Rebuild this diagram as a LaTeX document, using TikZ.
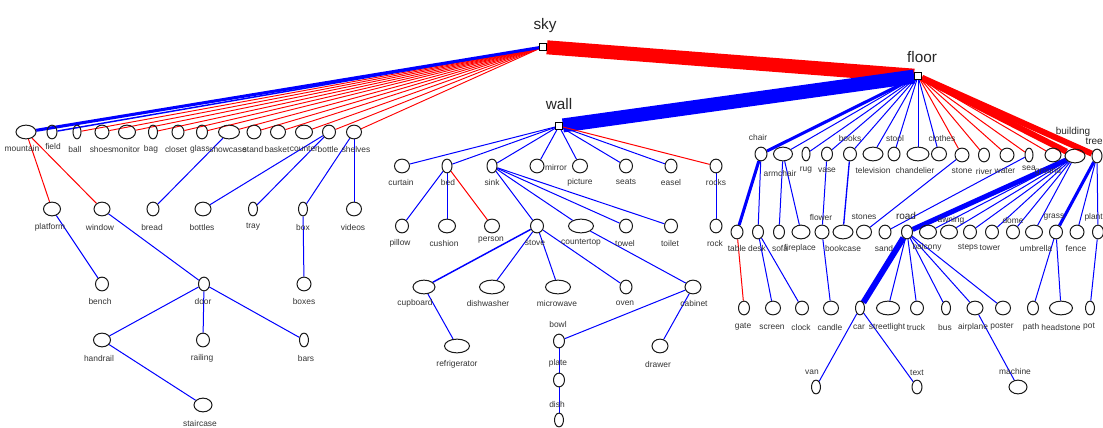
\documentclass[tikz,border=0pt]{standalone}
\usepackage{fontspec}
\setmainfont{Liberation Sans}
\usetikzlibrary{shapes.geometric,backgrounds}
\newcommand\obj[4]{\node[ob,minimum width={#4*0.75pt}] (#1) at (#2,#3) {};}
\newcommand\olab[3]{\node[lab] (#1-t) at (#2,#3) {#1};}
\newcommand\rootsq[3]{\node[sq] (#1) at (#2,#3) {};}
\begin{document}
\begin{tikzpicture}[x=0.75pt,y=-0.75pt,
  ob/.style={ellipse,draw=black!90,line width=0.75pt,minimum height=10.3pt,inner sep=0pt},
  sq/.style={rectangle,draw=black,fill=white,line width=0.7pt,minimum size=5.2pt,inner sep=0pt},
  lab/.style={inner sep=0pt,text=black!80,font=\fontsize{6.3}{7}\selectfont},
  big/.style={inner sep=0pt,text=black!85,font=\fontsize{11.5}{12}\selectfont},
  mid/.style={inner sep=0pt,text=black!85,font=\fontsize{7.5}{8}\selectfont},
  bl/.style={draw=blue,line width=0.75pt},
  rd/.style={draw=red,line width=0.75pt}]
\useasboundingbox (0,0) rectangle (1103,428);
% roots
\rootsq{sky}{543}{47}
\rootsq{wall}{559}{126}
\rootsq{floor}{918}{76}
\node[big] (sky-t) at (545,26) {sky};
\node[big] (wall-t) at (559,104) {wall};
\node[big] (floor-t) at (922,57) {floor};
% ---- left tree (sky)
\obj{mountain}{26}{132}{20}\olab{mountain}{22}{148}
\obj{field}{52}{132}{10}\olab{field}{53}{146}
\obj{ball}{77}{132}{8}\olab{ball}{75}{149}
\obj{shoes}{102}{132}{14}\olab{shoes}{101}{149}
\obj{monitor}{127}{132}{17}\olab{monitor}{126}{149}
\obj{bag}{153}{132}{9}\olab{bag}{151}{149}
\obj{closet}{178}{132}{12}\olab{closet}{176}{149}
\obj{glass}{202}{132}{11}\olab{glass}{200}{149}
\obj{showcase}{229}{132}{21}\olab{showcase}{228}{149}
\obj{stand}{254}{132}{14}\olab{stand}{253}{149}
\obj{basket}{278}{132}{15}\olab{basket}{277}{149}
\obj{counter}{304}{132}{17}\olab{counter}{304}{149}
\obj{bottle}{329}{132}{13}\olab{bottle}{328}{149}
\obj{shelves}{354}{132}{15}\olab{shelves}{356}{149}
\obj{platform}{52}{209}{17}\olab{platform}{50}{227}
\obj{window}{102}{209}{16}\olab{window}{100}{227}
\obj{bread}{153}{209}{12}\olab{bread}{152}{227}
\obj{bottles}{203}{209}{16}\olab{bottles}{202}{227}
\obj{tray}{253}{209}{9}\olab{tray}{253}{227}
\obj{box}{303}{209}{9}\olab{box}{303}{227}
\obj{videos}{354}{209}{15}\olab{videos}{353}{227}
\obj{bench}{102}{284}{13}\olab{bench}{100}{301}
\obj{door}{204}{284}{11}\olab{door}{203}{301}
\obj{boxes}{304}{284}{14}\olab{boxes}{304}{301}
\obj{handrail}{102}{340}{17}\olab{handrail}{99}{358}
\obj{railing}{203}{340}{13}\olab{railing}{202}{358}
\obj{bars}{304}{340}{9}\olab{bars}{306}{358}
\obj{staircase}{203}{405}{18}\olab{staircase}{200}{423}
% ---- wall tree
\obj{curtain}{402}{166}{15}\olab{curtain}{401}{182}
\obj{bed}{447}{166}{10}\olab{bed}{448}{182}
\obj{sink}{492}{166}{10}\olab{sink}{492}{182}
\obj{mirror}{537}{166}{14}\olab{mirror}{556}{167}
\obj{picture}{580}{166}{15}\olab{picture}{580}{182}
\obj{seats}{626}{166}{13}\olab{seats}{626}{182}
\obj{easel}{671}{166}{12}\olab{easel}{671}{182}
\obj{rocks}{716}{166}{12}\olab{rocks}{716}{182}
\obj{pillow}{402}{226}{13}\olab{pillow}{400}{243}
\obj{cushion}{447}{226}{17}\olab{cushion}{444}{243}
\obj{person}{492}{226}{15}\olab{person}{491}{240}
\obj{stove}{537}{226}{13}\olab{stove}{535}{243}
\obj{countertop}{581}{226}{25}\olab{countertop}{581}{243}
\obj{towel}{626}{226}{13}\olab{towel}{625}{243}
\obj{toilet}{671}{226}{13}\olab{toilet}{670}{243}
\obj{rock}{716}{226}{12}\olab{rock}{715}{243}
\obj{cupboard}{424}{287}{22}\olab{cupboard}{415}{303}
\obj{dishwasher}{492}{287}{25}\olab{dishwasher}{488}{303}
\obj{microwave}{558}{287}{25}\olab{microwave}{557}{303}
\obj{oven}{626}{287}{12}\olab{oven}{625}{303}
\obj{cabinet}{693}{287}{16}\olab{cabinet}{694}{303}
\obj{refrigerator}{457}{346}{25}\olab{refrigerator}{457}{364}
\obj{bowl}{559}{341}{11}\olab{bowl}{558}{324}
\obj{drawer}{660}{346}{16}\olab{drawer}{658}{364}
\obj{plate}{559}{380}{11}\olab{plate}{558}{363}
\obj{dish}{559}{420}{9}\olab{dish}{557}{404}
% ---- floor tree
\obj{chair}{761}{154}{12}\olab{chair}{758}{137}
\obj{armchair}{783}{154}{19}\olab{armchair}{780}{173}
\obj{rug}{806}{154}{8}\olab{rug}{806}{170}
\obj{vase}{827}{154}{11}\olab{vase}{827}{170}
\obj{books}{850}{154}{13}\olab{books}{850}{138}
\obj{television}{873}{154}{20}\olab{television}{873}{170}
\obj{stool}{894}{154}{12}\olab{stool}{895}{138}
\obj{chandelier}{918}{154}{22}\olab{chandelier}{915}{170}
\obj{clothes}{939}{154}{15}\olab{clothes}{942}{138}
\obj{stone}{962}{155}{14}\olab{stone}{962}{171}
\obj{river}{984}{155}{11}\olab{river}{984}{171}
\obj{water}{1007}{155}{14}\olab{water}{1005}{171}
\obj{sea}{1029}{155}{8}\olab{sea}{1029}{168}
\obj{ground}{1053}{155}{16}\olab{ground}{1048}{171}
\obj{building}{1075}{156}{20}\node[mid] (building-t) at (1073,132) {building};
\obj{tree}{1097}{156}{10}\node[mid,anchor=east] (tree-t) at (1103,141) {tree};
\obj{table}{737}{232}{12}\olab{table}{737}{248}
\obj{desk}{758}{232}{11}\olab{desk}{757}{248}
\obj{sofa}{779}{232}{11}\olab{sofa}{780}{248}
\obj{fireplace}{801}{232}{18}\olab{fireplace}{800}{248}
\obj{flower}{822}{232}{14}\olab{flower}{821}{217}
\obj{bookcase}{843}{232}{20}\olab{bookcase}{843}{248}
\obj{stones}{864}{232}{15}\olab{stones}{864}{217}
\obj{sand}{885}{232}{12}\olab{sand}{884}{248}
\obj{road}{907}{232}{11}\node[mid] (road-t) at (906,216) {road};
\obj{balcony}{928}{232}{17}\olab{balcony}{927}{247}
\obj{awning}{949}{232}{17}\olab{awning}{951}{220}
\obj{steps}{970}{232}{13}\olab{steps}{968}{248}
\obj{tower}{992}{232}{13}\olab{tower}{990}{248}
\obj{dome}{1013}{232}{13}\olab{dome}{1013}{220}
\obj{umbrella}{1034}{232}{17}\olab{umbrella}{1036}{248}
\obj{grass}{1056}{232}{13}\olab{grass}{1054}{217}
\obj{fence}{1077}{232}{14}\olab{fence}{1076}{248}
\obj{plant}{1098}{232}{11}\node[lab,anchor=east] (plant-t) at (1103,217) {plant};
\obj{gate}{744}{308}{11}\olab{gate}{743}{327}
\obj{screen}{773}{308}{15}\olab{screen}{772}{327}
\obj{clock}{802}{308}{13}\olab{clock}{801}{327}
\obj{candle}{831}{308}{15}\olab{candle}{830}{327}
\obj{car}{860}{308}{9}\olab{car}{859}{327}
\obj{streetlight}{888}{308}{23}\olab{streetlight}{887}{327}
\obj{truck}{917}{308}{13}\olab{truck}{916}{327}
\obj{bus}{946}{308}{9}\olab{bus}{945}{327}
\obj{airplane}{975}{308}{16}\olab{airplane}{973}{327}
\obj{poster}{1003}{308}{15}\olab{poster}{1002}{327}
\obj{path}{1033}{308}{11}\olab{path}{1031}{327}
\obj{headstone}{1061}{308}{23}\olab{headstone}{1061}{327}
\obj{pot}{1090}{308}{9}\olab{pot}{1089}{327}
\obj{van}{816}{387}{9}\olab{van}{812}{372}
\obj{text}{917}{387}{10}\olab{text}{917}{373}
\obj{machine}{1018}{387}{18}\olab{machine}{1015}{371}
% ---- connectors
\begin{scope}[on background layer]
\draw[rd,line width=10.5pt] (sky) -- (floor);
\draw[bl,line width=10.5pt] (wall) -- (floor);
\foreach \n in {ball,shoes,monitor,bag,closet,glass,showcase,stand,basket,counter,bottle,shelves}
  \draw[rd,line width=0.7pt] (sky) -- (\n);
\draw[bl,line width=1.1pt] (sky) -- (field);
\draw[bl,line width=2.3pt] (sky) -- (mountain);
\draw[rd] (mountain) -- (platform);
\draw[rd] (mountain) -- (window);
\draw[bl] (showcase) -- (bread);
\draw[bl] (bottle) -- (bottles);
\draw[bl] (bottle) -- (tray);
\draw[bl] (shelves) -- (box);
\draw[bl] (shelves) -- (videos);
\draw[bl] (platform) -- (bench);
\draw[bl] (window) -- (door);
\draw[bl] (box) -- (boxes);
\draw[bl] (door) -- (handrail);
\draw[bl] (door) -- (railing);
\draw[bl] (door) -- (bars);
\draw[bl] (handrail) -- (staircase);
\foreach \n in {curtain,bed,sink,mirror,picture,seats,easel}
  \draw[bl] (wall) -- (\n);
\draw[rd] (wall) -- (rocks);
\draw[bl] (bed) -- (pillow);
\draw[bl] (bed) -- (cushion);
\draw[rd] (bed) -- (person);
\foreach \n in {stove,countertop,towel,toilet}
  \draw[bl] (sink) -- (\n);
\draw[bl] (rocks) -- (rock);
\draw[bl,line width=1.1pt] (stove) -- (cupboard);
\foreach \n in {dishwasher,microwave,oven}
  \draw[bl] (stove) -- (\n);
\draw[bl] (countertop) -- (cabinet);
\draw[bl] (cupboard) -- (refrigerator);
\draw[bl] (cabinet) -- (bowl);
\draw[bl] (cabinet) -- (drawer);
\draw[bl] (bowl) -- (plate);
\draw[bl] (plate) -- (dish);
\draw[bl,line width=2.3pt] (floor) -- (chair);
\foreach \n in {armchair,rug,vase,books,television,stool,chandelier,clothes}
  \draw[bl] (floor) -- (\n);
\foreach \n in {stone,river,water,sea,ground}
  \draw[rd] (floor) -- (\n);
\draw[rd,line width=4.5pt] (floor) -- (building);
\draw[rd,line width=4.5pt] (floor) -- (tree);
\draw[bl,line width=2.3pt] (chair) -- (table);
\draw[bl] (chair) -- (desk);
\draw[bl] (armchair) -- (sofa);
\draw[bl] (armchair) -- (fireplace);
\draw[bl] (vase) -- (flower);
\draw[bl,line width=1pt] (books) -- (bookcase);
\draw[bl] (stone) -- (stones);
\draw[bl] (sea) -- (sand);
\draw[bl,line width=3.8pt] (building) -- (road);
\foreach \n in {balcony,awning,steps,tower,dome,umbrella}
  \draw[bl] (building) -- (\n);
\draw[bl,line width=2.3pt] (tree) -- (grass);
\draw[bl] (tree) -- (fence);
\draw[bl] (tree) -- (plant);
\draw[rd] (table) -- (gate);
\draw[bl] (desk) -- (screen);
\draw[bl] (desk) -- (clock);
\draw[bl] (flower) -- (candle);
\draw[bl,line width=4.5pt] (road) -- (car);
\foreach \n in {streetlight,truck,bus,airplane,poster}
  \draw[bl] (road) -- (\n);
\draw[bl] (grass) -- (path);
\draw[bl] (grass) -- (headstone);
\draw[bl] (plant) -- (pot);
\draw[bl] (car) -- (van);
\draw[bl] (car) -- (text);
\draw[bl] (airplane) -- (machine);
\end{scope}
\end{tikzpicture}
\end{document}
